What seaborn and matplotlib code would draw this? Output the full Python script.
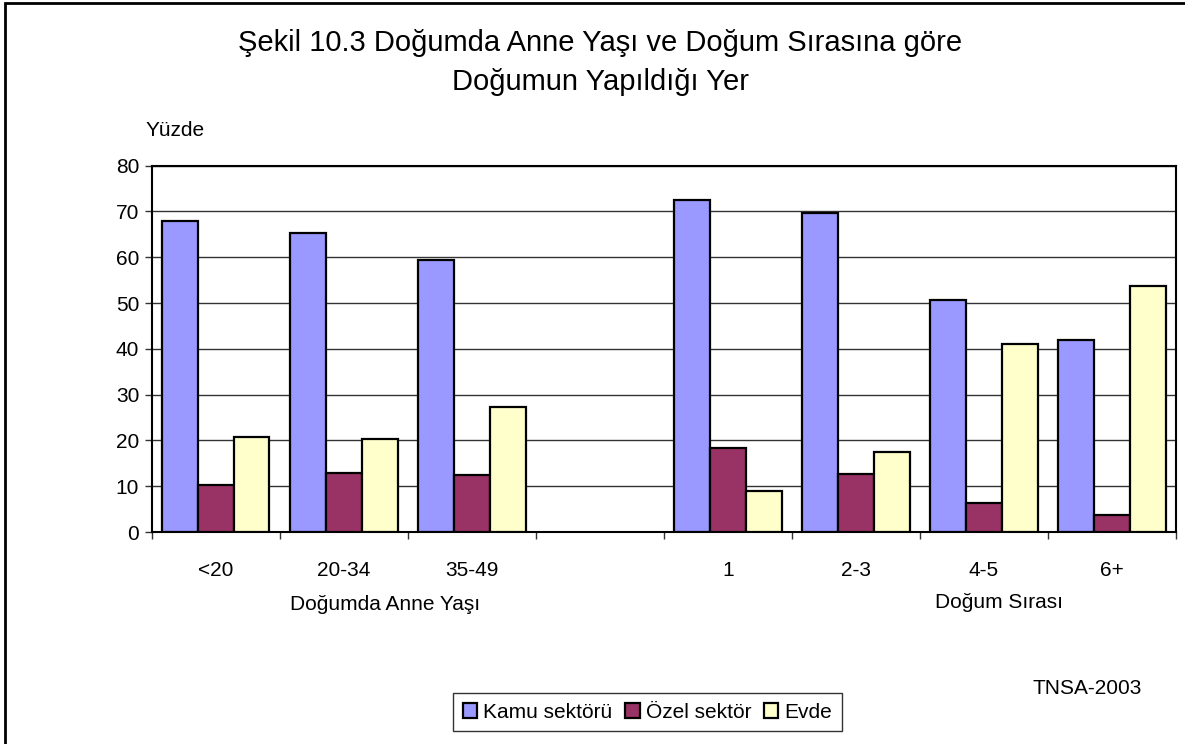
import matplotlib

matplotlib.use("Agg")
import matplotlib.pyplot as plt
import numpy as np
import pandas as pd
import seaborn as sns
from matplotlib.patches import Rectangle

CATEGORIES = ["<20", "20-34", "35-49", " ", "1", "2-3", "4-5", "6+"]
SERIES = ["Kamu sektörü", "Özel sektör", "Evde"]
KAMU = [67.9, 65.4, 59.3, np.nan, 72.6, 69.6, 50.7, 41.9]
OZEL = [10.3, 12.9, 12.5, np.nan, 18.3, 12.6, 6.4, 3.8]
EVDE = [20.7, 20.4, 27.3, np.nan, 9.0, 17.4, 41.1, 53.8]
COLORS = {"Kamu sektörü": "#9999FF", "Özel sektör": "#993366", "Evde": "#FFFFCC"}

W, H = 1185, 744

rows = []
for name, values in zip(SERIES, [KAMU, OZEL, EVDE]):
    for cat, v in zip(CATEGORIES, values):
        if not np.isnan(v):
            rows.append({"kategori": cat, "seri": name, "yuzde": v})
df = pd.DataFrame(rows)

sns.set_theme(style="white")
plt.rcParams["font.family"] = ["Liberation Sans", "DejaVu Sans"]
plt.rcParams["text.color"] = "black"

fig = plt.figure(figsize=(W / 100, H / 100), dpi=100)
ax = fig.add_axes([151.7 / W, 1 - 532 / H, (1176 - 151.7) / W, (532 - 165.7) / H])

sns.barplot(
    data=df, x="kategori", y="yuzde", hue="seri",
    order=CATEGORIES, hue_order=SERIES, palette=COLORS, saturation=1,
    width=0.84, gap=0, errorbar=None,
    edgecolor="black", linewidth=1.6, ax=ax, zorder=3,
)

ax.set_xlim(-0.5, len(CATEGORIES) - 0.5)
ax.set_ylim(0, 80)
ax.set_yticks(range(0, 81, 10))
ax.yaxis.grid(True, color="#333333", linewidth=1)
ax.set_axisbelow(True)
ax.set_xlabel("")
ax.set_ylabel("")

ax.set_xticks(range(len(CATEGORIES)))
ax.set_xticklabels(CATEGORIES)
ax.set_xticks(np.arange(-0.5, len(CATEGORIES)), minor=True)
ax.tick_params(axis="x", which="major", length=0, pad=21, labelsize=15, labelcolor="black")
ax.tick_params(axis="x", which="minor", length=5, width=1, color="#333333", direction="out", bottom=True)
ax.tick_params(axis="y", length=5, width=1, color="#333333", direction="out", left=True,
               labelsize=15, labelcolor="black", pad=4)

for side, sp in ax.spines.items():
    sp.set_visible(True)
    sp.set_color("black")
    sp.set_linewidth(1.5)

handles, labels = ax.get_legend_handles_labels()
ax.get_legend().remove()
leg = fig.legend(
    handles, labels, loc="center", ncol=3,
    bbox_to_anchor=(647.5 / W, 1 - 712 / H),
    frameon=True, fancybox=False, edgecolor="black", fontsize=15,
    handlelength=0.7, handleheight=0.7, handletextpad=0.3,
    columnspacing=0.6, borderpad=0.45, borderaxespad=0,
)
leg.get_frame().set_linewidth(1)

fig.text(600 / W, 1 - 43 / H, "Şekil 10.3 Doğumda Anne Yaşı ve Doğum Sırasına göre",
         ha="center", va="center", fontsize=21)
fig.text(600 / W, 1 - 82 / H, "Doğumun Yapıldığı Yer",
         ha="center", va="center", fontsize=21)
fig.text(146 / W, 1 - 131 / H, "Yüzde", ha="left", va="center", fontsize=15)
fig.text(385 / W, 1 - 605 / H, "Doğumda Anne Yaşı", ha="center", va="center", fontsize=15)
fig.text(999 / W, 1 - 603 / H, "Doğum Sırası", ha="center", va="center", fontsize=15)
fig.text(1142 / W, 1 - 688 / H, "TNSA-2003", ha="right", va="center", fontsize=15)

fig.patches.append(Rectangle((5 / W, -0.1), 1.2, 1.1 - 3 / H, transform=fig.transFigure,
                             fill=False, edgecolor="black", linewidth=2))

fig.savefig("out.png", dpi=100, facecolor="white")
